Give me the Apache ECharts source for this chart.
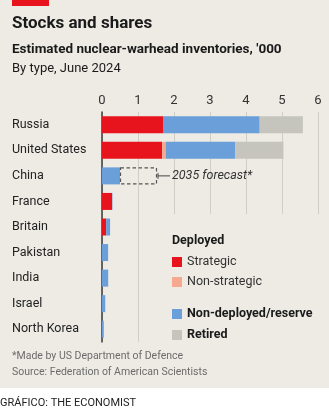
<!DOCTYPE html>
<html><head><meta charset="utf-8">
<script src="https://cdn.jsdelivr.net/npm/echarts@6/dist/echarts.min.js"></script>
<style>
html,body{margin:0;padding:0;background:#fff;}
#c{width:329px;height:411px;background:linear-gradient(to bottom,#edebe4 0,#edebe4 388px,#ffffff 388px);}
</style></head>
<body><div id="c"></div>
<script>
var categories = ['Russia','United States','China','France','Britain','Pakistan','India','Israel','North Korea'];
var strategic    = [1.71, 1.67, 0,   0.28, 0.115, 0,    0,     0,    0];
var nonStrategic = [0,    0.10, 0,   0,    0,     0,    0,     0,    0];
var reserve      = [2.67, 1.93, 0.5, 0.01, 0.11,  0.17, 0.172, 0.09, 0.05];
var retired      = [1.20, 1.34, 0,   0,    0,     0,    0,     0,    0];
var forecastCountry = 'China';
var forecastFrom = 0.5, forecastTo = 1.5;
var forecastLabel = '2035 forecast*';
var xTicks = [0,1,2,3,4,5,6];

var RED='#e8141d', PINK='#f7a98f', BLUE='#6a9fd9', GREY='#c6c5bd', BG='#edebe4';
var FONT='Roboto';
var chart = echarts.init(document.getElementById('c'));
var barW = 17;
function bar(name, data, color){
  return {name:name,type:'bar',stack:'a',data:data,barWidth:barW,itemStyle:{color:color},z:3};
}
var option = {
  backgroundColor:'transparent',
  animation:false,
  textStyle:{fontFamily:FONT},
  grid:{left:102,right:11,top:112,bottom:69,containLabel:false},
  xAxis:{type:'value',position:'top',min:xTicks[0],max:xTicks[xTicks.length-1],interval:1,
    axisLine:{show:false},axisTick:{show:false},
    axisLabel:{color:'#333',fontSize:13,fontFamily:FONT,margin:5},
    splitLine:{show:true,lineStyle:{color:'#cfcdc4',width:1}}},
  yAxis:{type:'category',data:categories,inverse:true,
    axisLine:{show:true,lineStyle:{color:'#3a3a3a',width:1.5}},axisTick:{show:false},
    axisLabel:{align:'left',margin:90,color:'#222',fontSize:12.5,fontFamily:FONT}},
  series:[
    bar('Strategic',strategic,RED),
    bar('Non-strategic',nonStrategic,PINK),
    bar('Non-deployed/reserve',reserve,BLUE),
    bar('Retired',retired,GREY),
    {type:'custom',z:4,data:[[categories.indexOf(forecastCountry),forecastFrom,forecastTo]],
     renderItem:function(params,api){
       var idx=api.value(0);
       var p0=api.coord([api.value(1),idx]);
       var p1=api.coord([api.value(2),idx]);
       var cy=p0[1];
       return {type:'group',children:[
         {type:'rect',shape:{x:p0[0]+0.5,y:cy-barW/2+0.5,width:p1[0]-p0[0],height:barW-1},
          style:{fill:'none',stroke:'#555',lineWidth:1.2,lineDash:[3.5,2.5]}},
         {type:'line',shape:{x1:p1[0]+2,y1:cy-3,x2:p1[0]+2,y2:cy+3},style:{stroke:'#444',lineWidth:1}},
         {type:'line',shape:{x1:p1[0]+2,y1:cy,x2:p1[0]+14,y2:cy},style:{stroke:'#444',lineWidth:1}},
         {type:'text',style:{x:p1[0]+16,y:cy,text:forecastLabel,fill:'#333',
           font:'italic 12.5px '+FONT,textVerticalAlign:'middle'}}
       ]};
     }}
  ],
  graphic:[
    {type:'rect',left:12,top:0,shape:{width:37,height:6},style:{fill:RED}},
    {type:'text',left:12,top:15,style:{text:'Stocks and shares',font:'bold 17px '+FONT,fill:'#1a1a1a'}},
    {type:'text',left:12,top:43,style:{text:"Estimated nuclear-warhead inventories, '000",font:'bold 13.5px '+FONT,fill:'#1a1a1a'}},
    {type:'text',left:12,top:62,style:{text:'By type, June 2024',font:'13px '+FONT,fill:'#1a1a1a'}},
    {type:'rect',left:150,top:214,z:2,shape:{width:179,height:130},style:{fill:BG}},
    {type:'text',left:172,top:234,z:5,style:{text:'Deployed',font:'bold 12.5px '+FONT,fill:'#1a1a1a'}},
    {type:'rect',left:172,top:257,z:5,shape:{width:10,height:10},style:{fill:RED}},
    {type:'text',left:187,top:255,z:5,style:{text:'Strategic',font:'12.5px '+FONT,fill:'#333'}},
    {type:'rect',left:172,top:277,z:5,shape:{width:10,height:10},style:{fill:PINK}},
    {type:'text',left:187,top:275,z:5,style:{text:'Non-strategic',font:'12.5px '+FONT,fill:'#333'}},
    {type:'rect',left:172,top:309,z:5,shape:{width:10,height:10},style:{fill:BLUE}},
    {type:'text',left:187,top:307,z:5,style:{text:'Non-deployed/reserve',font:'bold 12.5px '+FONT,fill:'#1a1a1a'}},
    {type:'rect',left:172,top:330,z:5,shape:{width:10,height:10},style:{fill:GREY}},
    {type:'text',left:187,top:328,z:5,style:{text:'Retired',font:'bold 12.5px '+FONT,fill:'#1a1a1a'}},
    {type:'text',left:12,top:351,style:{text:'*Made by US Department of Defence',font:'10.5px '+FONT,fill:'#6b6b6b'}},
    {type:'text',left:12,top:367,style:{text:'Source: Federation of American Scientists',font:'10.5px '+FONT,fill:'#6b6b6b'}},
    {type:'text',left:0,top:398,style:{text:'GRÁFICO: THE ECONOMIST',font:'11px '+FONT,fill:'#222'}}
  ]
};
chart.setOption(option);
</script></body></html>
